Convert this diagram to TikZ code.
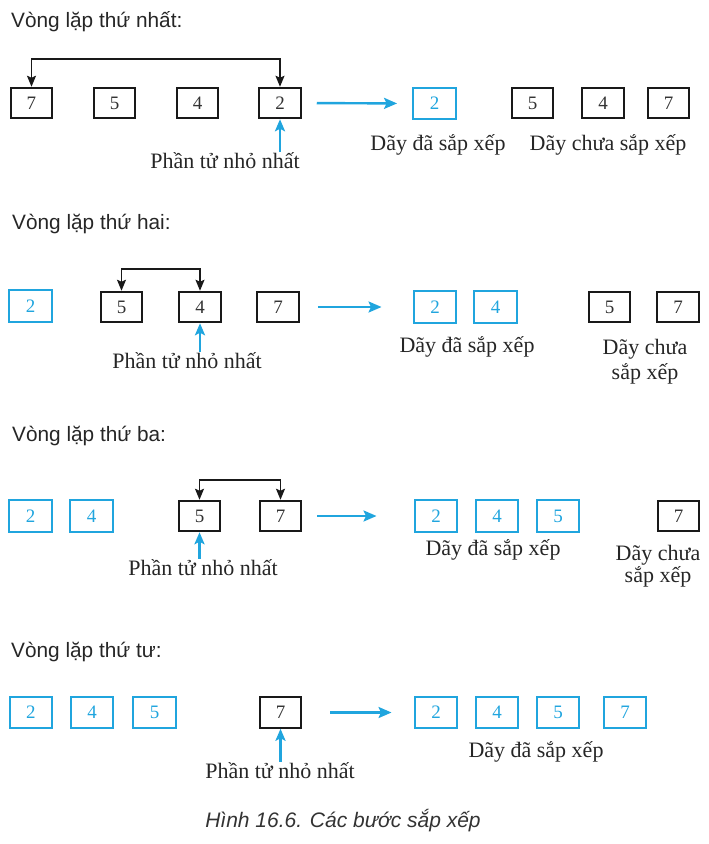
\documentclass[tikz,border=0pt]{standalone}
\usepackage{fontspec}
\setmainfont{Liberation Serif}
\setsansfont{Liberation Sans}
\usepackage{tikz}
\usetikzlibrary{arrows.meta}
\definecolor{sortblue}{RGB}{32,165,222}

\begin{document}
\begin{tikzpicture}[x=1pt,y=-1pt,
  box/.style={draw=black!90,line width=2pt,minimum width=41.5pt,minimum height=30.5pt,inner sep=0pt,font=\fontsize{19}{20}\selectfont,text=black!80},
  donebox/.style={box,draw=sortblue,text=sortblue,line width=2.4pt,minimum width=42.5pt,minimum height=31.5pt},
  swap/.style={line width=1.6pt,draw=black!90,{Stealth[length=11pt,width=9pt,inset=2pt]}-{Stealth[length=11pt,width=9pt,inset=2pt]}},
  move/.style={draw=sortblue,line width=2.4pt,-{Stealth[length=13pt,width=11pt,inset=2.5pt]}},
  pick/.style={draw=sortblue,line width=2.4pt,-{Stealth[length=12pt,width=10pt,inset=2.5pt]}},
  title/.style={anchor=base west,inner sep=0pt,font=\sffamily\fontsize{20.8}{24}\selectfont,text=black!85},
  note/.style={anchor=base,inner sep=0pt,align=center,font=\fontsize{22}{22}\selectfont,text=black!85}]
\useasboundingbox (0,0) rectangle (709,844);

% Draw first loop
\node[title] (t1) at (11,27) {Vòng lặp thứ nhất:};
\node[box] (v1a) at (31.5,103) {7};
\node[box] (v1b) at (114.5,103) {5};
\node[box] (v1c) at (197.5,103) {4};
\node[box] (v1d) at (280,103) {2};
\node[donebox] (s1a) at (434.5,103.5) {2};
\node[box] (u1a) at (532.5,103) {5};
\node[box] (u1b) at (603,103) {4};
\node[box] (u1c) at (668.5,103) {7};
\node[note] (m1) at (225,168) {Phần tử nhỏ nhất};
\node[note] (d1) at (438,150) {Dãy đã sắp xếp};
\node[note] (c1) at (608,150) {Dãy chưa sắp xếp};
\draw[swap] (v1a.north) -- ++(0,-28) -| (v1d.north);
\draw[pick] (v1d.south |- m1.north) -- (v1d.south);
\draw[move,shorten <=15pt,shorten >=15pt] (v1d.east) -- (s1a.west);

% Draw second loop
\node[title] (t2) at (12,229) {Vòng lặp thứ hai:};
\node[donebox] (v2a) at (30.5,306) {2};
\node[box] (v2b) at (121.5,307) {5};
\node[box] (v2c) at (200,307) {4};
\node[box] (v2d) at (278,307) {7};
\node[donebox] (s2a) at (435,307) {2};
\node[donebox] (s2b) at (495.5,307) {4};
\node[box] (u2a) at (609.5,307) {5};
\node[box] (u2b) at (678,307) {7};
\node[note] (m2) at (187,368) {Phần tử nhỏ nhất};
\node[note] (d2) at (467,352) {Dãy đã sắp xếp};
\node[note,font=\fontsize{22}{25}\selectfont] (c2) at (645,379) {Dãy chưa\\sắp xếp};
\draw[swap] (v2b.north) -- ++(0,-22) -| (v2c.north);
\draw[pick] (v2c.south |- m2.north) -- (v2c.south);
\draw[move,shorten <=18pt,shorten >=31pt] (v2d.east) -- (s2a.west);

% Draw third loop
\node[title] (t3) at (12,441) {Vòng lặp thứ ba:};
\node[donebox] (v3a) at (30.5,516) {2};
\node[donebox] (v3b) at (91.5,516) {4};
\node[box] (v3c) at (199.5,516) {5};
\node[box] (v3d) at (280.5,516) {7};
\node[donebox] (s3a) at (436,516) {2};
\node[donebox] (s3b) at (497,516) {4};
\node[donebox] (s3c) at (558,516) {5};
\node[box] (u3a) at (678.5,516) {7};
\node[note] (m3) at (203,575) {Phần tử nhỏ nhất};
\node[note] (d3) at (493,555) {Dãy đã sắp xếp};
\node[note,font=\fontsize{22}{21.5}\selectfont] (c3) at (658,582) {Dãy chưa\\sắp xếp};
\draw[swap] (v3c.north) -- ++(0,-20) -| (v3d.north);
\draw[pick] (v3c.south |- m3.north) -- (v3c.south);
\draw[move,shorten <=15pt,shorten >=37pt] (v3d.east) -- (s3a.west);

% Draw fourth loop
\node[title] (t4) at (11,657) {Vòng lặp thứ tư:};
\node[donebox] (v4a) at (31,712.5) {2};
\node[donebox] (v4b) at (92,712.5) {4};
\node[donebox] (v4c) at (154.5,712.5) {5};
\node[box] (v4d) at (280.5,712.5) {7};
\node[donebox] (s4a) at (436,712.5) {2};
\node[donebox] (s4b) at (497,712.5) {4};
\node[donebox] (s4c) at (558,712.5) {5};
\node[donebox] (s4d) at (625,712.5) {7};
\node[note] (m4) at (280,778) {Phần tử nhỏ nhất};
\node[note] (d4) at (536,757) {Dãy đã sắp xếp};
\draw[pick] (v4d.south |- m4.north) -- (v4d.south);
\draw[move,shorten <=28pt,shorten >=22pt] (v4d.east) -- (s4a.west);

% Caption
\node[anchor=base,inner sep=0pt,font=\sffamily\itshape\fontsize{21}{24}\selectfont,text=black!80] (cap) at (343,827) {Hình 16.6. Các bước sắp xếp};
\end{tikzpicture}
\end{document}
